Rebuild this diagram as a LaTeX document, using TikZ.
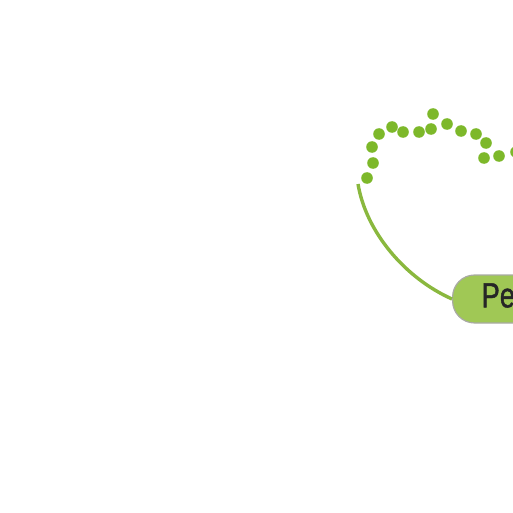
\documentclass[tikz,border=0pt]{standalone}
\usepackage{fontspec}
\newfontfamily\topicfont[FakeStretch=0.78,FakeBold=1.2]{Liberation Sans}
\definecolor{dotgreen}{HTML}{7DB82A}
\definecolor{linkgreen}{HTML}{8AB83E}
\definecolor{topicgreen}{HTML}{A0C855}
\definecolor{topicborder}{HTML}{A9AAA4}

\begin{document}
\begin{tikzpicture}[
        x=1pt, y=-1pt,
        topic/.style={rectangle,draw=topicborder,fill=topicgreen,line width=1.2pt,rounded corners=22pt,minimum height=48pt,inner xsep=29pt,anchor=west,font=\topicfont\fontsize{35}{35}\selectfont,text=black!85},
        link/.style={draw=linkgreen,line width=3.4pt},
        blob/.style={fill=dotgreen},
        ]
        \useasboundingbox (0,0) rectangle (513,513);
        \clip (0,0) rectangle (513,513);

        % Noeud central
        \node[topic] (pe) at (452,299) {Pe\vphantom{g}};

        % Extremite libre de la branche
        \coordinate (tip) at (358,184);

        % Branche
        \draw[link] (pe.west) .. controls (405,278) and (366,232) .. (tip);

        % Nuage de points
        \foreach \px/\py in {367/178, 373/163, 372/147, 379/134, 392/127, 403/132,
                             419/132, 431/129, 433/114, 447/124, 461/131, 476/134,
                             486/143, 484/158, 499/156, 516/152}
            \fill[blob] (\px,\py) circle (5.8pt);
    \end{tikzpicture}
\end{document}
